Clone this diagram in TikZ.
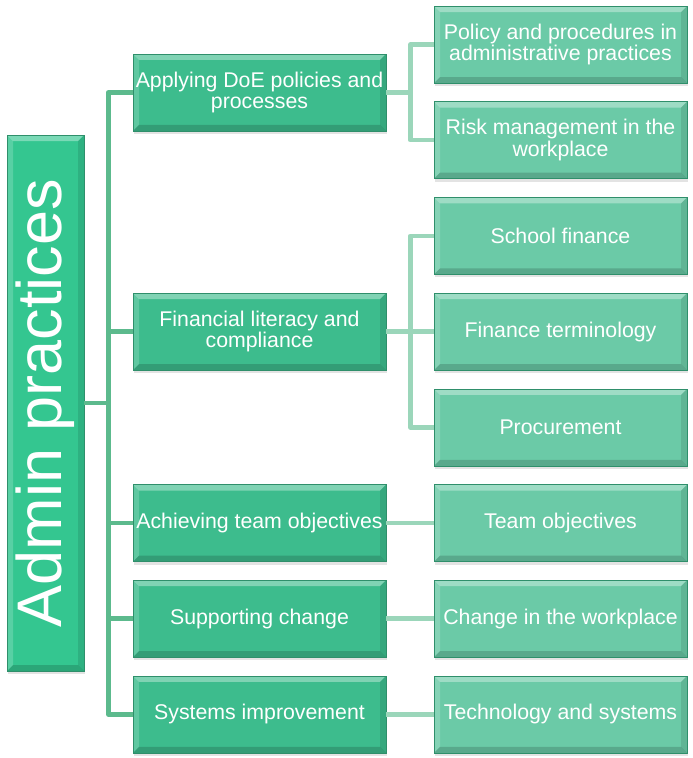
\documentclass[tikz,border=0pt]{standalone}
\usepackage{fontspec}
\setmainfont{Liberation Sans}
\usetikzlibrary{positioning,shadows}

\definecolor{rootgreen}{HTML}{34C690}
\definecolor{midgreen}{HTML}{3DBC8D}
\definecolor{leafgreen}{HTML}{6BCAA7}
\definecolor{edgegreen}{HTML}{2F8F6B}
\definecolor{trunkline}{HTML}{5CBA8D}
\definecolor{branchline}{HTML}{9BD6BA}

\tikzset{
  bevel/.style={path picture={
      \coordinate (bnw) at (path picture bounding box.north west);
      \coordinate (bne) at (path picture bounding box.north east);
      \coordinate (bsw) at (path picture bounding box.south west);
      \coordinate (bse) at (path picture bounding box.south east);
      \fill[white,opacity=.35] (bnw) -- (bne) -- ([shift={(-6pt,-6pt)}]bne) -- ([shift={(6pt,-6pt)}]bnw) -- cycle;
      \fill[white,opacity=.18] (bnw) -- (bsw) -- ([shift={(6pt,6pt)}]bsw) -- ([shift={(6pt,-6pt)}]bnw) -- cycle;
      \fill[black,opacity=.16] (bsw) -- (bse) -- ([shift={(-6pt,6pt)}]bse) -- ([shift={(6pt,6pt)}]bsw) -- cycle;
      \fill[black,opacity=.10] (bne) -- (bse) -- ([shift={(-6pt,6pt)}]bse) -- ([shift={(-6pt,-6pt)}]bne) -- cycle;
  }},
  box/.style={rectangle, bevel, draw=edgegreen, line width=.6pt, text=white,
    minimum width=253pt, minimum height=77pt, inner sep=1pt, align=center,
    font=\fontsize{21.3}{21.6}\selectfont,
    drop shadow={opacity=.22, shadow xshift=1pt, shadow yshift=-3pt}},
  mid/.style={box, fill=midgreen},
  leaf/.style={box, fill=leafgreen},
  root/.style={box, fill=rootgreen, minimum width=77pt, minimum height=536pt,
    font=\fontsize{63}{63}\selectfont},
  trunk/.style={draw=trunkline, line width=4.5pt, line join=round},
  branch/.style={draw=branchline, line width=4.5pt, line join=round}
}

\begin{document}
\begin{tikzpicture}[x=1pt,y=-1pt,node distance=95.7pt]
  \useasboundingbox (0,0) rectangle (693,758);

  \node[root] (root) at (45.5,403) {\rotatebox{90}{Admin practices}};

  \node[leaf] (t1) at (560.5,44.5) {Policy and procedures in\\administrative practices};
  \node[leaf] (t2) [below of=t1]   {Risk management in the\\workplace};
  \node[leaf] (t3) [below of=t2]   {School finance};
  \node[leaf] (t4) [below of=t3]   {Finance terminology};
  \node[leaf] (t5) [below of=t4]   {Procurement};
  \node[leaf] (t6) [below of=t5]   {Team objectives};
  \node[leaf] (t7) [below of=t6]   {Change in the workplace};
  \node[leaf] (t8) [below of=t7]   {Technology and systems};

  \path (t1) -- (t2) coordinate[midway] (t12);
  \node[mid] (m1) [left of=t12, node distance=301pt] {Applying DoE policies and\\processes};
  \node[mid] (m2) [left of=t4,  node distance=301pt] {Financial literacy and\\compliance};
  \node[mid] (m3) [left of=t6,  node distance=301pt] {Achieving team objectives};
  \node[mid] (m4) [left of=t7,  node distance=301pt] {Supporting change};
  \node[mid] (m5) [left of=t8,  node distance=301pt] {Systems improvement};

  % root to first level
  \draw[trunk] (root.east) -- ++(24,0) |- (m1.west)
               (root.east) -- ++(24,0) |- (m2.west)
               (root.east) -- ++(24,0) |- (m3.west)
               (root.east) -- ++(24,0) |- (m4.west)
               (root.east) -- ++(24,0) |- (m5.west);

  % first level to second level
  \draw[branch] (m1.east) -- ++(24,0) |- (t1.west)
                (m1.east) -- ++(24,0) |- (t2.west)
                (m2.east) -- ++(24,0) |- (t3.west)
                (m2.east) -- (t4.west)
                (m2.east) -- ++(24,0) |- (t5.west)
                (m3.east) -- (t6.west)
                (m4.east) -- (t7.west)
                (m5.east) -- (t8.west);
\end{tikzpicture}
\end{document}
